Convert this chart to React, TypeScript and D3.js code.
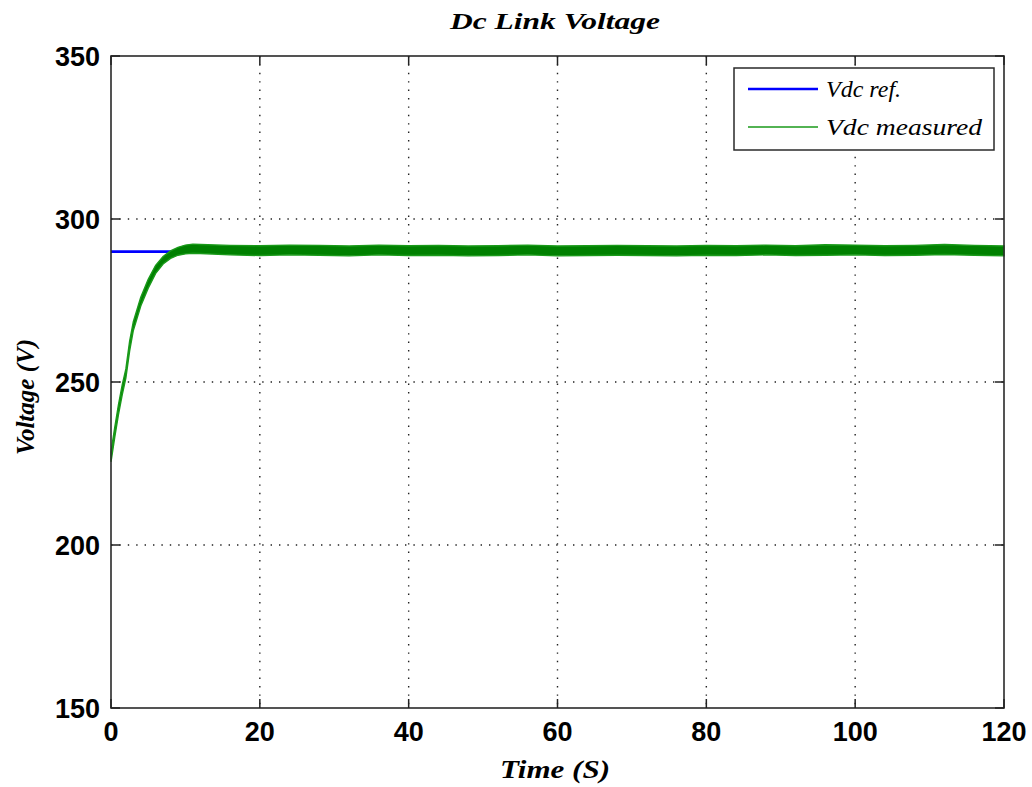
import { useEffect } from "react";
import * as d3 from "d3";

const xTicks = [0, 20, 40, 60, 80, 100, 120];
const yTicks = [150, 200, 250, 300, 350];

const refTime = [0, 120];
const refValue = [290, 290];

const measuredTime = [
  0, 0.5, 1, 1.5, 2, 2.5, 3, 4, 5, 6, 7, 8, 9, 10, 11,
  12, 16, 20, 24, 28, 32, 36, 40, 44, 48, 52, 56, 60, 64, 68, 72, 76, 80, 84, 88, 92, 96, 100, 104, 108, 112, 116, 120,
];
const measuredLow = [
  225.5, 233, 240, 246, 251.3, 259.5, 265.8, 273.3, 278.8, 283.3, 286.2, 287.9, 288.9, 289.3, 289.5,
  289.4, 289.0, 288.8, 289.0, 288.9, 288.7, 289.0, 288.8, 288.9, 288.7, 288.8, 289.0, 288.7, 288.8, 288.9, 288.8, 288.7, 288.9, 288.8, 289.0, 288.8, 288.9, 289.0, 288.8, 288.9, 289.1, 288.9, 288.7,
];
const measuredHigh = [
  228.5, 236, 243, 249, 254, 262.5, 268.5, 276, 281.5, 285.8, 288.5, 290.2, 291.3, 292.0, 292.3,
  292.2, 291.9, 291.8, 292.0, 291.9, 291.7, 292.0, 291.8, 291.9, 291.7, 291.8, 292.0, 291.7, 291.8, 291.9, 291.8, 291.7, 291.9, 291.8, 292.0, 291.8, 292.1, 292.0, 291.8, 291.9, 292.2, 291.9, 291.7,
];

const left = 111;
const right = 1004;
const top = 56;
const bottom = 708;

export default function App() {
  useEffect(() => {
    document.body.style.margin = "0";
  }, []);

  const x = d3.scaleLinear().domain([0, 120]).range([left, right]);
  const y = d3.scaleLinear().domain([150, 350]).range([bottom, top]);

  const refLine = d3
    .line<number>()
    .x((d, i) => x(refTime[i]))
    .y((d) => y(d));

  const band = d3
    .area<number>()
    .x((d, i) => x(measuredTime[i]))
    .y0((d, i) => y(measuredLow[i]))
    .y1((d) => y(d));

  const tickLen = 9;
  const grid = { stroke: "#222", strokeWidth: 1.4, strokeDasharray: "1.4 7" };
  const tickFont = { fontFamily: "Liberation Sans, Arial, sans-serif", fontWeight: 700, fontSize: 27 };
  const serif = { fontFamily: "Liberation Serif, Times New Roman, serif", fontWeight: 700, fontStyle: "italic" as const };

  return (
    <svg width={1032} height={787} style={{ display: "block", background: "#fff" }}>
      <rect x={0} y={0} width={1032} height={787} fill="#fff" />
      {/* grid */}
      {xTicks.slice(1, -1).map((t) => (
        <line key={"gx" + t} x1={x(t)} x2={x(t)} y1={top} y2={bottom} {...grid} />
      ))}
      {yTicks.slice(1, -1).map((t) => (
        <line key={"gy" + t} x1={left} x2={right} y1={y(t)} y2={y(t)} {...grid} />
      ))}
      {/* data */}
      <path d={refLine(refValue) ?? ""} fill="none" stroke="#0000ff" strokeWidth={2.6} />
      <path d={band(measuredHigh) ?? ""} fill="#008000" stroke="#1a9a1a" strokeWidth={1.4} />
      {/* frame and ticks */}
      <rect x={left} y={top} width={right - left} height={bottom - top} fill="none" stroke="#2a2a2a" strokeWidth={1.6} />
      {xTicks.map((t) => (
        <g key={"tx" + t}>
          <line x1={x(t)} x2={x(t)} y1={bottom} y2={bottom - tickLen} stroke="#222" strokeWidth={1.5} />
          <line x1={x(t)} x2={x(t)} y1={top} y2={top + tickLen} stroke="#222" strokeWidth={1.5} />
          <text x={x(t)} y={741} textAnchor="middle" {...tickFont}>
            {t}
          </text>
        </g>
      ))}
      {yTicks.map((t) => (
        <g key={"ty" + t}>
          <line x1={left} x2={left + tickLen} y1={y(t)} y2={y(t)} stroke="#222" strokeWidth={1.5} />
          <line x1={right} x2={right - tickLen} y1={y(t)} y2={y(t)} stroke="#222" strokeWidth={1.5} />
          <text x={100} y={y(t) + 10} textAnchor="end" {...tickFont}>
            {t}
          </text>
        </g>
      ))}
      {/* title and labels */}
      <text x={555} y={29} textAnchor="middle" fontSize={24} textLength={210} lengthAdjust="spacingAndGlyphs" {...serif}>
        Dc Link Voltage
      </text>
      <text x={555} y={778} textAnchor="middle" fontSize={26} textLength={110} lengthAdjust="spacingAndGlyphs" {...serif}>
        Time (S)
      </text>
      <text
        transform={`translate(34,397) rotate(-90)`}
        textAnchor="middle"
        fontSize={26}
        textLength={116}
        lengthAdjust="spacingAndGlyphs"
        {...serif}
      >
        Voltage (V)
      </text>
      {/* legend */}
      <rect x={734} y={68} width={260} height={82} fill="#fff" stroke="#2a2a2a" strokeWidth={1.5} />
      <line x1={748} x2={818} y1={89} y2={89} stroke="#0000ff" strokeWidth={2.6} />
      <line x1={748} x2={818} y1={127} y2={127} stroke="#1a9a1a" strokeWidth={1.4} />
      <text x={826} y={97} fontSize={24} {...serif} fontWeight={400}>
        Vdc ref.
      </text>
      <text x={826} y={135} fontSize={24} textLength={156} lengthAdjust="spacingAndGlyphs" {...serif} fontWeight={400}>
        Vdc measured
      </text>
    </svg>
  );
}
